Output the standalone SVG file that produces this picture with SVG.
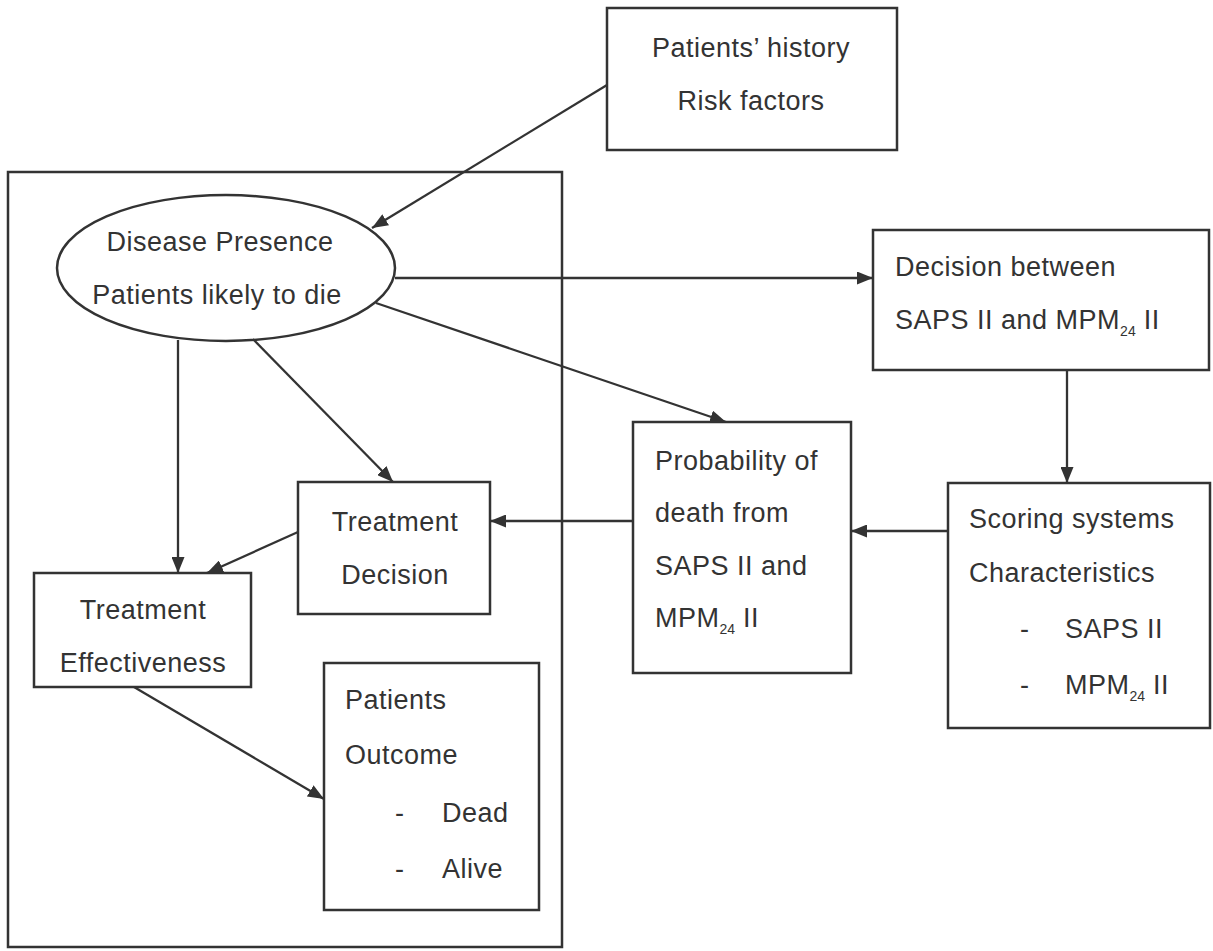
<svg xmlns="http://www.w3.org/2000/svg" width="1213" height="951" viewBox="0 0 1213 951">
<style>
.box{fill:none;stroke:#333333;stroke-width:2.5}
.conn{fill:none;stroke:#333333;stroke-width:2.3}
text{font-family:"Liberation Sans",Arial,sans-serif;font-size:27px;fill:#333333;letter-spacing:0.5px}
.mid{text-anchor:middle}
.sub{font-size:14px;letter-spacing:0}
</style>
<defs>
<marker id="arr" markerUnits="userSpaceOnUse" markerWidth="16" markerHeight="13" refX="16" refY="6.5" orient="auto">
<path d="M0,0 L16,6.5 L0,13 z" fill="#333333"/>
</marker>
</defs>
<rect x="0" y="0" width="1213" height="951" fill="#ffffff"/>
<g id="container">
<rect class="box" x="8" y="172" width="554" height="775"/>
</g>
<g id="history">
<rect class="box" x="607" y="8" width="290" height="142"/>
<text class="mid" x="751" y="57">Patients’ history</text>
<text class="mid" x="751" y="110">Risk factors</text>
</g>
<g id="disease">
<ellipse class="box" cx="226" cy="268" rx="169" ry="73"/>
<text class="mid" x="220" y="251">Disease Presence</text>
<text class="mid" x="217" y="304">Patients likely to die</text>
</g>
<g id="decision-between">
<rect class="box" x="873" y="230" width="336" height="140"/>
<text x="895" y="276">Decision between</text>
<text x="895" y="329">SAPS II and MPM<tspan class="sub" dy="7">24</tspan><tspan dy="-7"> II</tspan></text>
</g>
<g id="scoring">
<rect class="box" x="948" y="483" width="262" height="245"/>
<text x="969" y="528">Scoring systems</text>
<text x="969" y="582">Characteristics</text>
<text x="1020" y="638">-</text>
<text x="1065" y="638">SAPS II</text>
<text x="1020" y="694">-</text>
<text x="1065" y="694">MPM<tspan class="sub" dy="7">24</tspan><tspan dy="-7"> II</tspan></text>
</g>
<g id="probability">
<rect class="box" x="633" y="422" width="218" height="251"/>
<text x="655" y="470">Probability of</text>
<text x="655" y="522">death from</text>
<text x="655" y="575">SAPS II and</text>
<text x="655" y="627">MPM<tspan class="sub" dy="7">24</tspan><tspan dy="-7"> II</tspan></text>
</g>
<g id="treatment-decision">
<rect class="box" x="298" y="482" width="192" height="132"/>
<text class="mid" x="395" y="531">Treatment</text>
<text class="mid" x="395" y="584">Decision</text>
</g>
<g id="treatment-effectiveness">
<rect class="box" x="34" y="573" width="217" height="114"/>
<text class="mid" x="143" y="619">Treatment</text>
<text class="mid" x="143" y="672">Effectiveness</text>
</g>
<g id="outcome">
<rect class="box" x="324" y="663" width="215" height="247"/>
<text x="345" y="709">Patients</text>
<text x="345" y="764">Outcome</text>
<text x="395" y="822">-</text>
<text x="442" y="822">Dead</text>
<text x="395" y="878">-</text>
<text x="442" y="878">Alive</text>
</g>
<g id="connectors">
<line class="conn" x1="607" y1="85" x2="372" y2="228" marker-end="url(#arr)"/>
<line class="conn" x1="395" y1="278" x2="873" y2="278" marker-end="url(#arr)"/>
<line class="conn" x1="376" y1="303" x2="726" y2="422" marker-end="url(#arr)"/>
<line class="conn" x1="253" y1="339" x2="393" y2="482" marker-end="url(#arr)"/>
<line class="conn" x1="178" y1="340" x2="178" y2="573" marker-end="url(#arr)"/>
<line class="conn" x1="298" y1="532" x2="207" y2="573" marker-end="url(#arr)"/>
<line class="conn" x1="134" y1="687" x2="324" y2="799" marker-end="url(#arr)"/>
<line class="conn" x1="1067" y1="370" x2="1067" y2="483" marker-end="url(#arr)"/>
<line class="conn" x1="948" y1="531" x2="851" y2="531" marker-end="url(#arr)"/>
<line class="conn" x1="633" y1="521" x2="490" y2="521" marker-end="url(#arr)"/>
</g>
</svg>
